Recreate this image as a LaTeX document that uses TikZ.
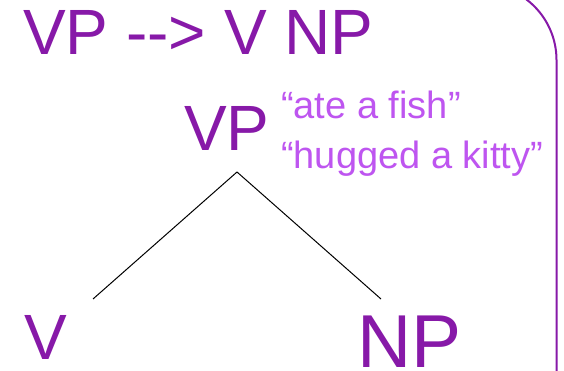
\documentclass[tikz,border=0pt]{standalone}
\usepackage{fontspec}
\setmainfont{Liberation Sans}
\definecolor{mainpurple}{RGB}{135,25,168}
\definecolor{lightpurple}{RGB}{190,85,240}
\begin{document}
\begin{tikzpicture}[x=1pt,y=-1pt,
  lbl/.style={inner sep=0pt,anchor=base west,text=mainpurple},
  quote/.style={inner sep=0pt,anchor=base west,text=lightpurple,font=\fontsize{38}{40}\selectfont},
  branch/.style={draw=black,line width=1pt}]
\useasboundingbox (0,0) rectangle (564,371);
\clip (0,0) rectangle (564,371);
\fill[white] (0,0) rectangle (564,371);
\draw[mainpurple,line width=2pt,rounded corners=76pt] (-200,-16) -- (556.5,-16) -- (556.5,500);
\node[lbl,font=\fontsize{64}{70}\selectfont] (rule) at (23,55) {VP -{}-{}> V NP};
\node[lbl,font=\fontsize{64}{70}\selectfont] (vp) at (184,151) {VP};
\node[quote] (q1) at (281,119) {“ate a fish”};
\node[quote] (q2) at (281,169) {“hugged a kitty”};
\node[lbl,font=\fontsize{64}{70}\selectfont] (v) at (24,359) {V};
\node[lbl,font=\fontsize{75}{80}\selectfont] (np) at (357,367) {NP};
\coordinate (top) at (237,172);
\coordinate (lend) at (93,299);
\coordinate (rend) at (381,299);
\draw[branch] (top) -- (lend);
\draw[branch] (top) -- (rend);
\end{tikzpicture}
\end{document}
